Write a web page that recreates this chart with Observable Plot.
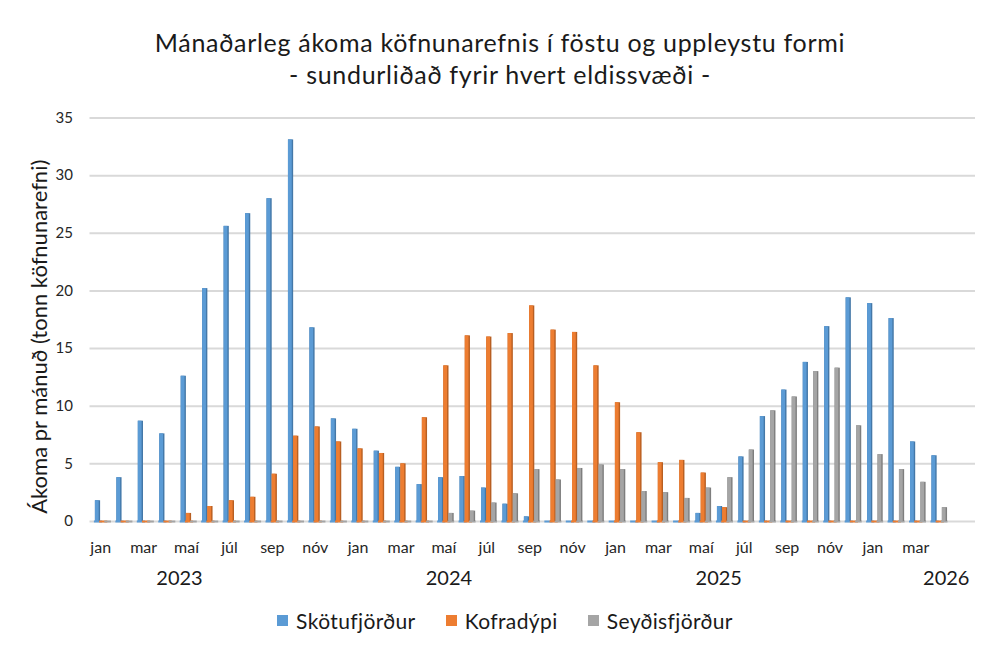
<!DOCTYPE html>
<html>
<head>
<meta charset="utf-8">
<script src="https://cdn.jsdelivr.net/npm/d3@7"></script>
<script src="https://cdn.jsdelivr.net/npm/@observablehq/plot@0.6"></script>
<style>
  body { margin: 0; background: #fff; }
  #wrap { position: relative; width: 1000px; height: 647px; font-family: Lato, "Open Sans", sans-serif; color: #1a1a1a; overflow: hidden; }
  #chart { position: absolute; left: 0; top: 0; }
  #title { position: absolute; left: 0; top: 26px; width: 1000px; text-align: center; font-size: 25px; line-height: 32px; letter-spacing: 0.7px; }
  #legend { position: absolute; left: 5px; top: 608px; width: 1000px; display: flex; justify-content: center; align-items: center; font-size: 21px; letter-spacing: 0.4px; gap: 30px; }
  .item { display: flex; align-items: center; gap: 8px; }
  .sw { width: 11px; height: 11px; display: inline-block; }
</style>
</head>
<body>
<div id="wrap">
  <div id="chart"></div>
  <div id="title">Mánaðarleg ákoma köfnunarefnis í föstu og uppleystu formi<br>- sundurliðað fyrir hvert eldissvæði -</div>
  <div id="legend"></div>
</div>
<script>
// ---- data ----
const months = [
  "2023-01","2023-02","2023-03","2023-04","2023-05","2023-06","2023-07","2023-08","2023-09","2023-10","2023-11","2023-12",
  "2024-01","2024-02","2024-03","2024-04","2024-05","2024-06","2024-07","2024-08","2024-09","2024-10","2024-11","2024-12",
  "2025-01","2025-02","2025-03","2025-04","2025-05","2025-06","2025-07","2025-08","2025-09","2025-10","2025-11","2025-12",
  "2026-01","2026-02","2026-03","2026-04"
];
const monthNames = ["jan","feb","mar","apr","maí","jún","júl","ágú","sep","okt","nóv","des"];
const seriesNames = ["Skötufjörður", "Kofradýpi", "Seyðisfjörður"];
const skotufjordur = [
  1.8, 3.8, 8.7, 7.6, 12.6, 20.2, 25.6, 26.7, 28.0, 33.1, 16.8, 8.9,
  8.0, 6.1, 4.7, 3.2, 3.8, 3.9, 2.9, 1.5, 0.4, 0, 0, 0,
  0, 0, 0, 0, 0.7, 1.3, 5.6, 9.1, 11.4, 13.8, 16.9, 19.4,
  18.9, 17.6, 6.9, 5.7
];
const kofradypi = [
  0, 0, 0, 0, 0.7, 1.3, 1.8, 2.1, 4.1, 7.4, 8.2, 6.9,
  6.3, 5.9, 5.0, 9.0, 13.5, 16.1, 16.0, 16.3, 18.7, 16.6, 16.4, 13.5,
  10.3, 7.7, 5.1, 5.3, 4.2, 1.2, 0, 0, 0, 0, 0, 0,
  0, 0, 0, 0
];
const seydisfjordur = [
  0, 0, 0, 0, 0, 0, 0, 0, 0, 0, 0, 0,
  0, 0, 0, 0, 0.7, 0.9, 1.6, 2.4, 4.5, 3.6, 4.6, 4.9,
  4.5, 2.6, 2.5, 2.0, 2.9, 3.8, 6.2, 9.6, 10.8, 13.0, 13.3, 8.3,
  5.8, 4.5, 3.4, 1.2
];
const yTicks = [0, 5, 10, 15, 20, 25, 30, 35];
const years = ["2023", "2024", "2025", "2026"];

// ---- styling / layout ----
const colors = ["#5B9BD5", "#ED7D31", "#A5A5A5"];
const sideColors = ["#4478A8", "#B85F22", "#7E7E7E"];
const xRange = [89.5, 947.5];
const bw = (xRange[1] - xRange[0]) / months.length;
const barOffset = 5.4, barW = 5.2;
const yearAnchor = [{m: "2023-05", dx: -7}, {m: "2024-05", dx: 5}, {m: "2025-06", dx: -4}, {m: "2026-04", dx: 9}];

const seriesValues = [skotufjordur, kofradypi, seydisfjordur];
const tables = seriesValues.map(vals => months.map((m, i) => ({month: m, value: vals[i]})));

const barMarks = [];
tables.forEach((rows, s) => {
  const l = barOffset + barW * s;
  const r = bw - (l + barW);
  barMarks.push(Plot.tickY(rows, {x: "month", y: 0, stroke: colors[s], strokeWidth: 2, insetLeft: l - 1, insetRight: Math.max(0, r - 2)}));
  barMarks.push(Plot.barY(rows, {x: "month", y: "value", fill: sideColors[s], insetLeft: l, insetRight: r}));
  barMarks.push(Plot.barY(rows, {x: "month", y: "value", fill: colors[s], insetLeft: l, insetRight: r + 1.4}));
});

const yearMarks = years.map((y, i) => Plot.text([y], {
  x: () => yearAnchor[i].m, frameAnchor: "bottom", dy: 63, dx: yearAnchor[i].dx,
  fontSize: 20, fill: "#1a1a1a", textAnchor: "middle"
}));

const plot = Plot.plot({
  width: 1000,
  height: 647,
  marginLeft: 89.5,
  marginRight: 25,
  marginTop: 117.5,
  marginBottom: 126,
  style: {fontFamily: "Lato, 'Open Sans', sans-serif", background: "#fff", color: "#262626"},
  x: {type: "band", domain: months, range: xRange, padding: 0, round: false},
  y: {domain: [0, 35]},
  marks: [
    Plot.gridY({ticks: yTicks, stroke: "#d9d9d9", strokeOpacity: 1, strokeWidth: 2}),
    Plot.axisY({ticks: yTicks, tickSize: 0, tickPadding: 17, fontSize: 15, label: null, fill: "#262626"}),
    Plot.axisX({
      ticks: months.filter((d, i) => i % 2 === 0),
      tickFormat: d => monthNames[+d.slice(5) - 1],
      tickSize: 0, tickPadding: 20, fontSize: 16, label: null, fill: "#262626"
    }),
    ...barMarks,
    ...yearMarks,
    Plot.text(["Ákoma pr mánuð (tonn köfnunarefni)"], {
      frameAnchor: "left", rotate: -90, dx: -50, dy: 17, fontSize: 22, fill: "#1a1a1a",
      textAnchor: "middle", letterSpacing: "0.8px"
    })
  ]
});
document.getElementById("chart").appendChild(plot);

const legend = document.getElementById("legend");
seriesNames.forEach((name, i) => {
  const it = document.createElement("div");
  it.className = "item";
  it.innerHTML = `<span class="sw" style="background:${colors[i]}"></span><span>${name}</span>`;
  legend.appendChild(it);
});
</script>
</body>
</html>
